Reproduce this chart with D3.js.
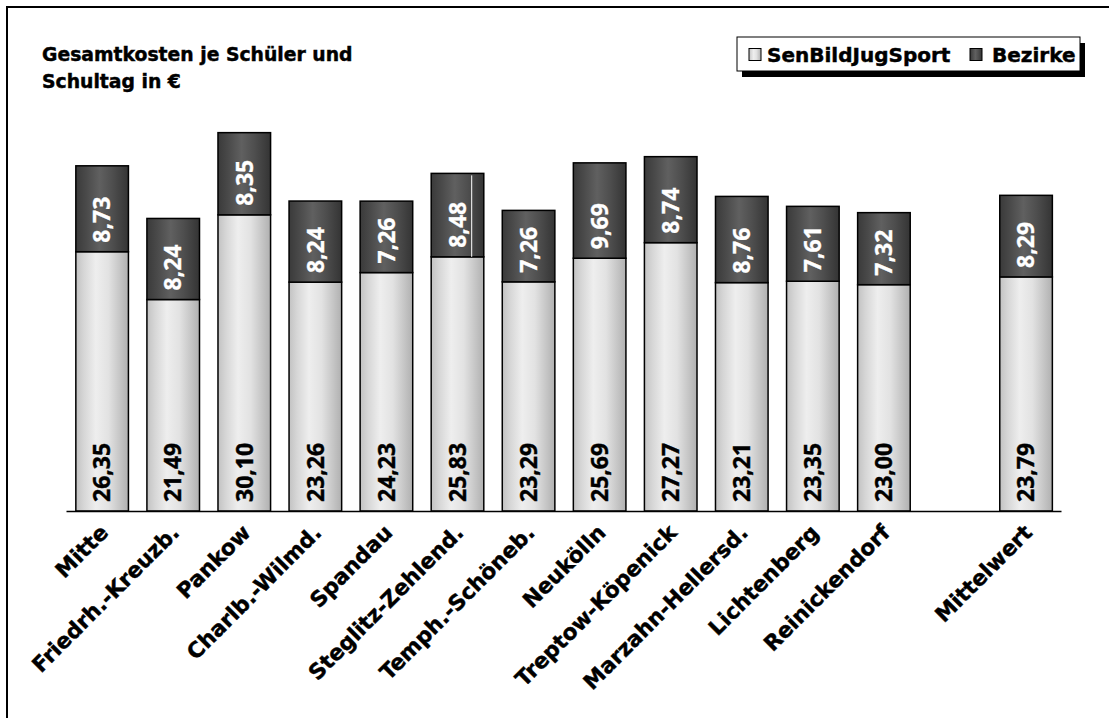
<!DOCTYPE html>
<html>
<head>
<meta charset="utf-8">
<script src="https://cdn.jsdelivr.net/npm/d3@7/dist/d3.min.js"></script>
<style>
  html, body { margin: 0; padding: 0; background: #fff; }
  svg { display: block; }
  .txt { font-family: "DejaVu Sans", Verdana, sans-serif; font-weight: bold; fill: #000; stroke: #000; stroke-width: 0.45px; }
  .num { font-family: "Noto Sans", "DejaVu Sans", sans-serif; font-weight: bold; }
</style>
</head>
<body>
<svg id="chart" width="1109" height="718"></svg>
<script>
// Bezirke im Vergleich: Gesamtkosten je Schüler und Schultag (in €)
const categories = [
  "Mitte", "Friedrh.-Kreuzb.", "Pankow", "Charlb.-Wilmd.", "Spandau",
  "Steglitz-Zehlend.", "Temph.-Schöneb.", "Neukölln", "Treptow-Köpenick",
  "Marzahn-Hellersd.", "Lichtenberg", "Reinickendorf", "", "Mittelwert"
];
// Anteil Senatsverwaltung (SenBildJugSport)
const senValues = [26.35, 21.49, 30.10, 23.26, 24.23, 25.83, 23.29, 25.69, 27.27, 23.21, 23.35, 23.00, null, 23.79];
// Anteil Bezirke
const bezValues = [8.73, 8.24, 8.35, 8.24, 7.26, 8.48, 7.26, 9.69, 8.74, 8.76, 7.61, 7.32, null, 8.29];
const seriesNames = ["SenBildJugSport", "Bezirke"];
const titleLines = ["Gesamtkosten je Schüler und", "Schultag in €"];

const fmt = d3.formatLocale({ decimal: ",", thousands: ".", grouping: [3], currency: ["", " €"] }).format(".2f");

const svg = d3.select("#chart");

// gradients for the two series
const defs = svg.append("defs");
function hGrad(id, stops) {
  const g = defs.append("linearGradient").attr("id", id)
    .attr("x1", "0%").attr("x2", "100%").attr("y1", "0%").attr("y2", "0%");
  stops.forEach(([o, c]) => g.append("stop").attr("offset", o).attr("stop-color", c));
}
hGrad("gLight", [["0%", "#c2c2c2"], ["15%", "#d6d6d6"], ["38%", "#eeeeee"], ["62%", "#e2e2e2"], ["85%", "#c4c4c4"], ["100%", "#b0b0b0"]]);
hGrad("gDark", [["0%", "#3a3a3a"], ["20%", "#4a4a4a"], ["45%", "#606060"], ["70%", "#4e4e4e"], ["100%", "#343434"]]);

// frame
svg.append("path")
  .attr("d", "M7,718V7H1109")
  .attr("fill", "none").attr("stroke", "#000").attr("stroke-width", 2);

const x = d3.scaleBand().domain(d3.range(categories.length)).range([66, 1061]).padding(0);
const y = d3.scaleLinear().domain([0, 45]).range([511, 511 - 45 * 9.84]);
const barW = x.bandwidth() * 0.74;
const cx = i => x(i) + x.bandwidth() / 2 + 0.6;

const rows = categories.map((c, i) => ({ i, c, sen: senValues[i], bez: bezValues[i] }))
  .filter(d => d.sen != null);

const bars = svg.append("g");
// lower segment
bars.selectAll("rect.sen").data(rows).join("rect")
  .attr("class", "sen")
  .attr("x", d => cx(d.i) - barW / 2)
  .attr("width", barW)
  .attr("y", d => y(d.sen))
  .attr("height", d => y(0) - y(d.sen))
  .attr("fill", "url(#gLight)")
  .attr("stroke", "#000").attr("stroke-width", 1.5);
// upper segment
bars.selectAll("rect.bez").data(rows).join("rect")
  .attr("class", "bez")
  .attr("x", d => cx(d.i) - barW / 2)
  .attr("width", barW)
  .attr("y", d => y(d.sen + d.bez))
  .attr("height", d => y(d.sen) - y(d.sen + d.bez))
  .attr("fill", "url(#gDark)")
  .attr("stroke", "#000").attr("stroke-width", 1.5);

// thin highlight line inside the Steglitz-Zehlend. upper segment
const sz = rows.find(d => d.c === "Steglitz-Zehlend.");
bars.append("line")
  .attr("x1", cx(sz.i) + barW * 0.27).attr("x2", cx(sz.i) + barW * 0.27)
  .attr("y1", y(sz.sen + sz.bez) + 2).attr("y2", y(sz.sen))
  .attr("stroke", "#fff").attr("stroke-width", 1);

// axis along the base
const axis = d3.axisBottom(x).tickSize(0).tickSizeOuter(0).tickFormat(i => categories[i]);
const ax = svg.append("g").attr("transform", `translate(0,${y(0)})`).call(axis);
ax.select(".domain").attr("stroke", "#000").attr("stroke-width", 1.5);
ax.selectAll(".tick text")
  .attr("class", "txt")
  .style("font-size", "21.5px")
  .attr("text-anchor", "end")
  .attr("y", 0).attr("dy", 0)
  .attr("transform", "translate(8,23) rotate(-45)");
ax.attr("font-family", null).attr("font-size", null);

// value labels
const lbl = svg.append("g").attr("class", "num").style("font-size", "23px");
lbl.selectAll("text.sen").data(rows).join("text")
  .attr("transform", d => `translate(${cx(d.i)},${y(0) - 9}) rotate(-90)`)
  .attr("dy", "0.36em")
  .attr("fill", "#000").attr("stroke", "#000").attr("stroke-width", 0.4)
  .text(d => fmt(d.sen));
lbl.selectAll("text.bez").data(rows).join("text")
  .attr("transform", d => `translate(${cx(d.i)},${y(d.sen) - 9}) rotate(-90)`)
  .attr("dy", "0.36em")
  .attr("fill", "#fff").attr("stroke", "#fff").attr("stroke-width", 0.3)
  .text(d => fmt(d.bez));

// title
svg.append("text").attr("class", "txt").style("font-size", "18.8px")
  .selectAll("tspan").data(titleLines).join("tspan")
  .attr("x", 42).attr("y", (d, i) => 60.5 + i * 27)
  .text(d => d);

// legend
const lg = svg.append("g");
lg.append("rect").attr("x", 742).attr("y", 43).attr("width", 343).attr("height", 34).attr("fill", "#000");
lg.append("rect").attr("x", 737).attr("y", 37).attr("width", 343).attr("height", 34)
  .attr("fill", "#fff").attr("stroke", "#000").attr("stroke-width", 1);
const legendItems = [
  { name: seriesNames[0], fill: "url(#gLight)", sx: 749, tx: 767 },
  { name: seriesNames[1], fill: "url(#gDark)", sx: 970, tx: 992 }
];
legendItems.forEach(it => {
  lg.append("rect").attr("x", it.sx).attr("y", 48.5).attr("width", 12).attr("height", 12)
    .attr("fill", it.fill).attr("stroke", "#000").attr("stroke-width", 1);
  lg.append("text").attr("class", "txt").style("font-size", "20px")
    .attr("x", it.tx).attr("y", 61.5).text(it.name);
});
</script>
</body>
</html>
